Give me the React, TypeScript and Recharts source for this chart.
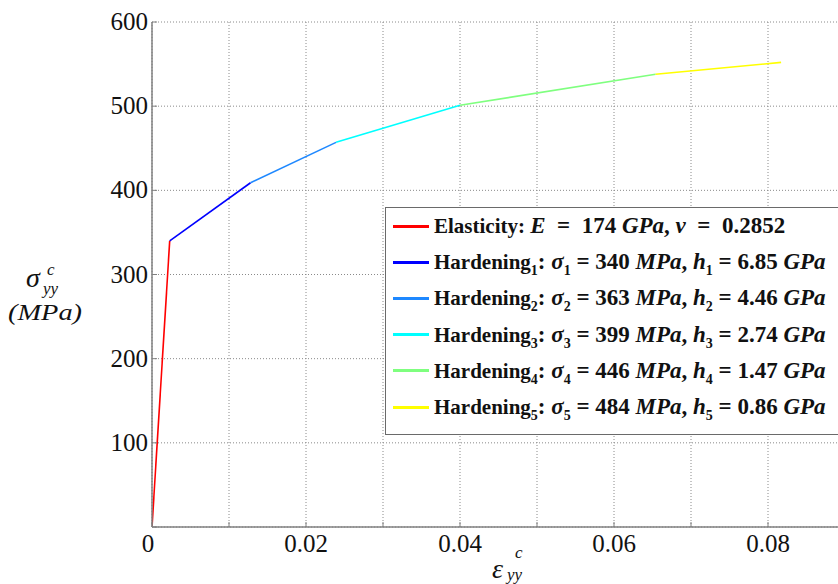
import React from 'react';
import { LineChart, Line, XAxis, YAxis, CartesianGrid, Legend } from 'recharts';

// Curve vertices (strain, stress in MPa)
const strainPoints = [0, 0.0023, 0.0128, 0.0239, 0.04, 0.0654, 0.0817];
const stressPoints = [0, 340, 409, 457, 501, 538, 552];

const segmentNames = ['Elasticity', 'Hardening1', 'Hardening2', 'Hardening3', 'Hardening4', 'Hardening5'];
const segmentColors = ['#ff0000', '#0000ff', '#1e88ff', '#00ffff', '#7fff7f', '#ffff00'];

const xTicks = [0, 0.01, 0.02, 0.03, 0.04, 0.05, 0.06, 0.07, 0.08];
const xTickLabels = ['0', '', '0.02', '', '0.04', '', '0.06', '', '0.08'];
const yTicks = [0, 100, 200, 300, 400, 500, 600];
const yTickLabels = ['', '100', '200', '300', '400', '500', '600'];

const youngModulusGPa = '174';
const poissonRatio = '0.2852';
const yieldStressMPa = ['340', '363', '399', '446', '484'];
const hardeningModulusGPa = ['6.85', '4.46', '2.74', '1.47', '0.86'];

const segments = segmentNames.map((name, i) => ({
  name,
  color: segmentColors[i],
  data: [
    { x: strainPoints[i], y: stressPoints[i] },
    { x: strainPoints[i + 1], y: stressPoints[i + 1] },
  ],
}));

const serif = "'Liberation Serif', serif";
const axisColor = '#808080';

const XTick = (props: any) => {
  const { x, y, payload } = props;
  const idx = xTicks.indexOf(payload.value);
  const label = idx >= 0 ? xTickLabels[idx] : '';
  return (
    <g>
      <line x1={x} x2={x} y1={y} y2={y - 5} stroke={axisColor} />
      <text x={idx === 0 ? x - 4 : x} y={y + 25} textAnchor="middle" fontFamily={serif} fontSize={25} fill="#111">
        {label}
      </text>
    </g>
  );
};

const YTick = (props: any) => {
  const { x, y, payload } = props;
  const idx = yTicks.indexOf(payload.value);
  const label = idx >= 0 ? yTickLabels[idx] : '';
  return (
    <g>
      <line x1={x} x2={x + 5} y1={y} y2={y} stroke={axisColor} />
      <text x={x - 4} y={y + 8} textAnchor="end" fontFamily={serif} fontSize={25} fill="#111">
        {label}
      </text>
    </g>
  );
};

const YLabel = () => (
  <g fill="#111" fontFamily={serif} fontStyle="italic">
    <text x={26} y={287} fontSize={28}>σ</text>
    <text x={47} y={275} fontSize={17}>c</text>
    <text x={43} y={294} fontSize={17}>yy</text>
    <text x={8} y={320} fontSize={24} textLength={74} lengthAdjust="spacingAndGlyphs">(MPa)</text>
  </g>
);

const XLabel = () => (
  <g fill="#111" fontFamily={serif} fontStyle="italic">
    <text x={492} y={578} fontSize={28}>ε</text>
    <text x={515} y={558} fontSize={17}>c</text>
    <text x={507} y={580} fontSize={17}>yy</text>
  </g>
);

const wordFont: React.CSSProperties = { fontFamily: serif, fontWeight: 'bold', fontSize: 21 };
const mathStyle: React.CSSProperties = { fontFamily: serif, fontWeight: 'bold', fontSize: 23 };
const subStyle: React.CSSProperties = { fontSize: 14, verticalAlign: '-6px', lineHeight: 0 };

const LegendContent = (props: any) => {
  const payload = props.payload || [];
  return (
    <div
      style={{
        width: 470,
        height: 228,
        boxSizing: 'border-box',
        border: '1.5px solid #6a6a6a',
        background: '#fff',
        paddingTop: 0,
      }}
    >
      {payload.map((entry: any, i: number) => (
        <div key={i} style={{ height: 36.2, display: 'flex', alignItems: 'center', whiteSpace: 'pre', color: '#111' }}>
          <div style={{ width: 36, height: 3, background: entry.color, marginLeft: 7, marginRight: 5 }} />
          {i === 0 ? (
            <span>
              <span style={wordFont}>Elasticity: </span>
              <span style={mathStyle}>
                <i>E</i>{'  =  '}{youngModulusGPa} <i>GPa</i>, <i>v</i>{'  =  '}{poissonRatio}
              </span>
            </span>
          ) : (
            <span>
              <span style={wordFont}>
                Hardening<sub style={subStyle}>{i}</sub>
              </span>
              <span style={mathStyle}>
                : <i>σ</i><sub style={subStyle}>{i}</sub>{' = '}{yieldStressMPa[i - 1]} <i>MPa</i>, <i>h</i>
                <sub style={subStyle}>{i}</sub>{' = '}{hardeningModulusGPa[i - 1]} <i>GPa</i>
              </span>
            </span>
          )}
        </div>
      ))}
    </div>
  );
};

export default function App() {
  return (
    <div style={{ position: 'absolute', left: 0, top: 0, width: 838, height: 584, overflow: 'hidden', background: '#fff' }}>
      <LineChart width={845} height={584} margin={{ top: 22, right: 0, left: 0, bottom: 27 }}>
        <CartesianGrid stroke="#8a8a8a" strokeDasharray="1 2" />
        <XAxis
          dataKey="x"
          type="number"
          domain={[0, 0.09]}
          ticks={xTicks}
          allowDataOverflow
          height={30}
          tickSize={0}
          tickMargin={0}
          tick={<XTick />}
          axisLine={{ stroke: axisColor, strokeWidth: 1.5 }}
          tickLine={false}
          label={{ content: () => <XLabel /> }}
        />
        <YAxis
          type="number"
          domain={[0, 600]}
          ticks={yTicks}
          width={152}
          tickSize={0}
          tickMargin={0}
          tick={<YTick />}
          axisLine={{ stroke: axisColor, strokeWidth: 1.5 }}
          tickLine={false}
          label={{ content: () => <YLabel /> }}
        />
        <Legend
          layout="vertical"
          align="center"
          verticalAlign="middle"
          wrapperStyle={{ left: 385, top: 207, width: 470, height: 228 }}
          content={<LegendContent />}
        />
        {segments.map((s) => (
          <Line
            key={s.name}
            data={s.data}
            dataKey="y"
            name={s.name}
            stroke={s.color}
            strokeWidth={1.6}
            dot={false}
            activeDot={false}
            isAnimationActive={false}
            legendType="line"
          />
        ))}
      </LineChart>
    </div>
  );
}
